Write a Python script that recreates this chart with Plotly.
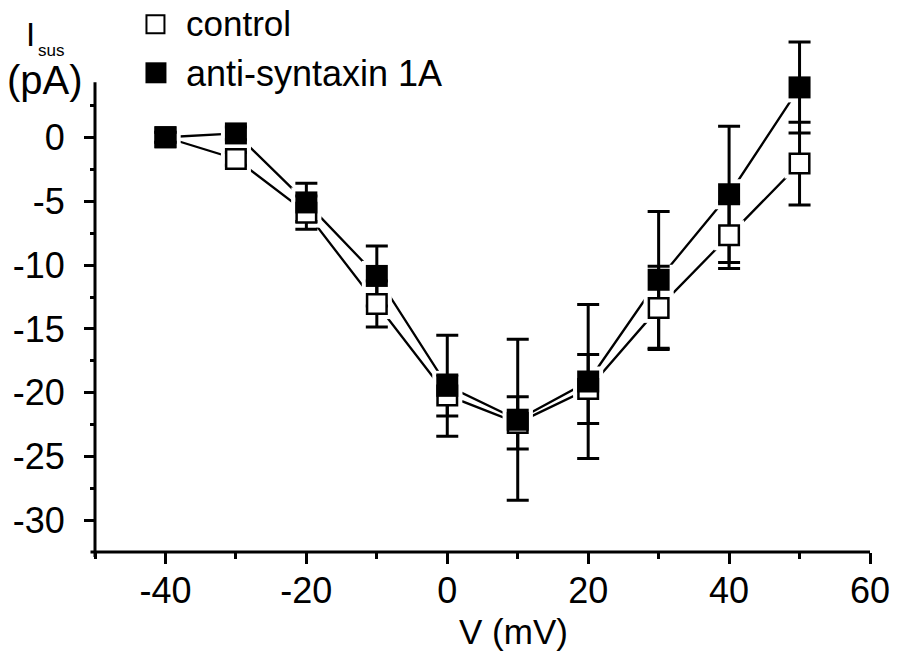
import plotly.graph_objects as go

# ---- data ----
V = [-40, -30, -20, -10, 0, 10, 20, 30, 40, 50]
control = [0.0, -1.7, -5.9, -13.05, -20.2, -22.35, -19.7, -13.35, -7.67, -2.06]
control_err = [0.4, 0.5, 1.3, 1.8, 1.6, 2.05, 2.7, 3.25, 2.6, 3.24]
anti = [0.0, 0.3, -5.1, -10.85, -19.45, -22.1, -19.11, -11.15, -4.46, 3.9]
anti_err = [0.4, 0.5, 1.5, 2.35, 3.95, 6.3, 6.02, 5.35, 5.33, 3.56]

x_ticks = [-40, -20, 0, 20, 40, 60]
x_ticklabels = ["-40", "-20", "0", "20", "40", "60"]
y_ticks = [-30, -25, -20, -15, -10, -5, 0]
y_ticklabels = ["-30", "-25", "-20", "-15", "-10", "-5", "0"]

OFF = 8  # page offset of the plot div
W, H = 899 - OFF, 660 - OFF
FONT = "Liberation Sans, Arial, Helvetica, sans-serif"

# y scale: 0 at page y 137, -32.45 at page y 552 (x-axis)
YMIN, YAX_TOP, YMAX = -32.45, 4.3, 8.0
PPU = (552.0 - 82.0) / (YAX_TOP - YMIN)
# plot-area edges in page pixels
L, R, B = 94.5, 870.0, 552.0
T = B - (YMAX - YMIN) * PPU


def px(xp):
    return (xp - L) / (R - L)


def py(yp):
    return (B - yp) / (B - T)


def yv(v):
    return (v - YMIN) / (YMAX - YMIN)


fig = go.Figure()

# connecting lines
for ys in (control, anti):
    fig.add_trace(go.Scatter(x=V, y=ys, mode="lines", cliponaxis=False,
                             line=dict(color="black", width=2.3),
                             hoverinfo="skip", showlegend=False))
# white halos so the lines stop short of the markers
for ys in (control, anti):
    fig.add_trace(go.Scatter(x=V, y=ys, mode="markers", cliponaxis=False,
                             marker=dict(symbol="square", size=30, color="white",
                                         line=dict(width=0)),
                             hoverinfo="skip", showlegend=False))
# error bars
for ys, es in ((control, control_err), (anti, anti_err)):
    fig.add_trace(go.Scatter(x=V, y=ys, mode="markers", cliponaxis=False,
                             marker=dict(size=1, opacity=0),
                             error_y=dict(type="data", array=es, visible=True,
                                          color="black", thickness=3, width=11),
                             hoverinfo="skip", showlegend=False))
# markers
fig.add_trace(go.Scatter(x=V, y=control, mode="markers", name="control",
                         cliponaxis=False,
                         marker=dict(symbol="square", size=19.5, color="white",
                                     line=dict(color="black", width=2.5)),
                         showlegend=False))
fig.add_trace(go.Scatter(x=V, y=anti, mode="markers", name="anti-syntaxin 1A",
                         cliponaxis=False,
                         marker=dict(symbol="square", size=22, color="black",
                                     line=dict(width=0)),
                         showlegend=False))

shapes = [
    # axis lines with small overhang at the corner
    dict(type="line", xref="paper", yref="paper", x0=0, x1=0,
         y0=py(557), y1=yv(YAX_TOP), line=dict(color="black", width=3)),
    dict(type="line", xref="paper", yref="paper", x0=px(90), x1=1,
         y0=0, y1=0, line=dict(color="black", width=3)),
    # legend symbols
    dict(type="rect", xref="paper", yref="paper",
         x0=px(146), x1=px(164), y0=py(33), y1=py(15),
         line=dict(color="black", width=2), fillcolor="white"),
    dict(type="rect", xref="paper", yref="paper",
         x0=px(145), x1=px(166), y0=py(83), y1=py(62),
         line=dict(color="black", width=0), fillcolor="black"),
]

annotations = [
    dict(text="control", x=px(184), y=py(23), xref="paper", yref="paper",
         xanchor="left", yanchor="middle", showarrow=False,
         font=dict(family=FONT, size=35, color="black")),
    dict(text="anti-syntaxin 1A", x=px(184), y=py(73), xref="paper", yref="paper",
         xanchor="left", yanchor="middle", showarrow=False,
         font=dict(family=FONT, size=36, color="black")),
    dict(text="I", x=px(30), y=py(34), xref="paper", yref="paper",
         xanchor="center", yanchor="middle", showarrow=False,
         font=dict(family=FONT, size=33, color="black")),
    dict(text="sus", x=px(50.5), y=py(50), xref="paper", yref="paper",
         xanchor="center", yanchor="middle", showarrow=False,
         font=dict(family=FONT, size=17, color="black")),
    dict(text="(pA)", x=px(44), y=py(80), xref="paper", yref="paper",
         xanchor="center", yanchor="middle", showarrow=False,
         font=dict(family=FONT, size=40, color="black")),
    dict(text="V (mV)", x=px(513), y=py(632), xref="paper", yref="paper",
         xanchor="center", yanchor="middle", showarrow=False,
         font=dict(family=FONT, size=35, color="black")),
]

fig.update_layout(
    width=W, height=H,
    margin=dict(l=L - OFF, r=(899 - R), t=T - OFF, b=(660 - B), pad=0),
    paper_bgcolor="white", plot_bgcolor="white",
    showlegend=False,
    shapes=shapes, annotations=annotations,
    font=dict(family=FONT, color="black"),
)
fig.update_xaxes(range=[-50, 60], showgrid=False, zeroline=False, showline=False,
                 automargin=False,
                 tickmode="array", tickvals=x_ticks, ticktext=x_ticklabels,
                 ticks="outside", ticklen=11, tickwidth=3, tickcolor="black",
                 ticklabelstandoff=-4,
                 tickfont=dict(family=FONT, size=36, color="black"),
                 minor=dict(tickmode="array", tickvals=[-50, -30, -10, 10, 30, 50],
                            ticks="outside", ticklen=6, tickwidth=3, tickcolor="black",
                            showgrid=False))
fig.update_yaxes(range=[YMIN, YMAX], showgrid=False, zeroline=False, showline=False,
                 automargin=False,
                 tickmode="array", tickvals=y_ticks, ticktext=y_ticklabels,
                 ticks="outside", ticklen=10, tickwidth=3, tickcolor="black",
                 ticklabelstandoff=12,
                 tickfont=dict(family=FONT, size=36, color="black"),
                 minor=dict(tickmode="array",
                            tickvals=[2.5, -2.5, -7.5, -12.5, -17.5, -22.5, -27.5],
                            ticks="outside", ticklen=4, tickwidth=3, tickcolor="black",
                            showgrid=False))

fig.write_html("out.html")
